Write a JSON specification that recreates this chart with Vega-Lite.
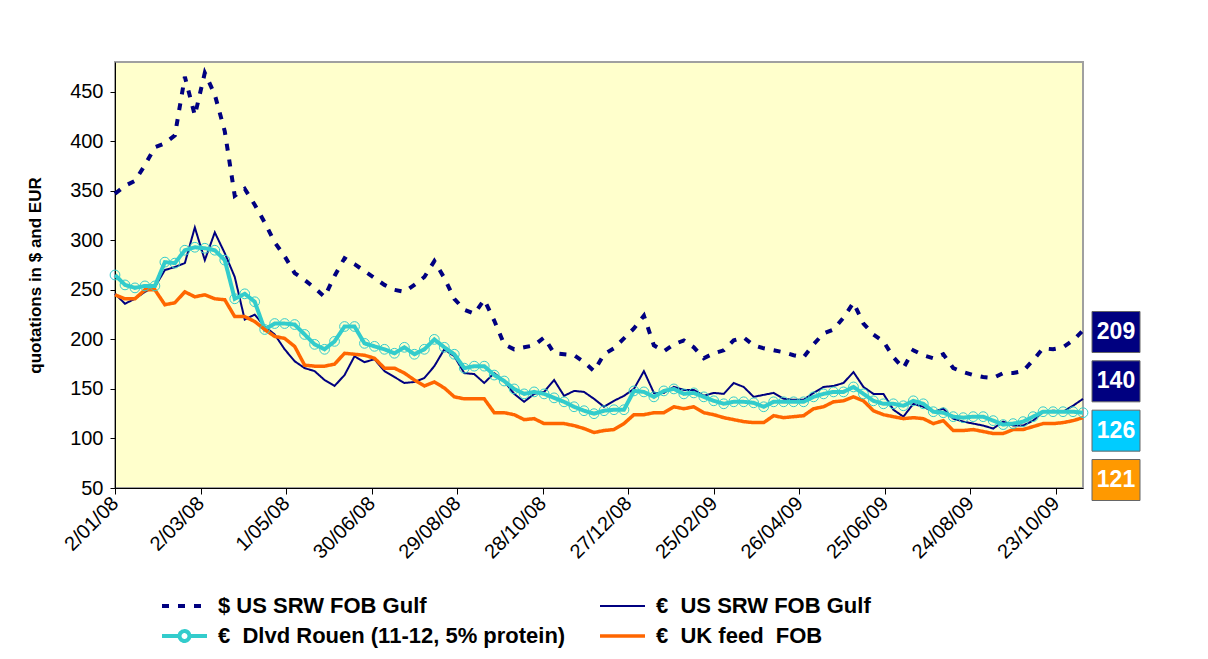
{
  "$schema": "https://vega.github.io/schema/vega-lite/v6.json",
  "width": 968,
  "height": 426,
  "autosize": {"type": "none"},
  "padding": {"left": 115, "top": 62, "right": 125, "bottom": 171},
  "background": "white",
  "config": {
    "font": "Liberation Sans",
    "view": {"fill": "#FFFFCC", "stroke": "#A0A0A0", "strokeWidth": 2},
    "axis": {"labelFont": "Liberation Sans", "labelColor": "black", "domainColor": "black", "tickColor": "black", "grid": false}
  },
  "data": {
    "values": [
      {"date": "2008-01-02", "usd": 347, "eur": 246, "rouen": 265, "uk": 245},
      {"date": "2008-01-09", "usd": 355, "eur": 236, "rouen": 255, "uk": 241},
      {"date": "2008-01-16", "usd": 360, "eur": 241, "rouen": 252, "uk": 241},
      {"date": "2008-01-23", "usd": 376, "eur": 248, "rouen": 254, "uk": 250},
      {"date": "2008-01-30", "usd": 394, "eur": 253, "rouen": 254, "uk": 250},
      {"date": "2008-02-06", "usd": 398, "eur": 270, "rouen": 278, "uk": 235},
      {"date": "2008-02-13", "usd": 406, "eur": 273, "rouen": 277, "uk": 237},
      {"date": "2008-02-20", "usd": 465, "eur": 277, "rouen": 290, "uk": 248},
      {"date": "2008-02-27", "usd": 426, "eur": 313, "rouen": 293, "uk": 243},
      {"date": "2008-03-05", "usd": 469, "eur": 280, "rouen": 292, "uk": 245},
      {"date": "2008-03-12", "usd": 447, "eur": 308, "rouen": 290, "uk": 241},
      {"date": "2008-03-19", "usd": 410, "eur": 287, "rouen": 280, "uk": 240},
      {"date": "2008-03-26", "usd": 345, "eur": 263, "rouen": 241, "uk": 223},
      {"date": "2008-04-02", "usd": 352, "eur": 220, "rouen": 246, "uk": 223},
      {"date": "2008-04-09", "usd": 336, "eur": 225, "rouen": 238, "uk": 218},
      {"date": "2008-04-16", "usd": 318, "eur": 213, "rouen": 210, "uk": 210},
      {"date": "2008-04-23", "usd": 298, "eur": 205, "rouen": 216, "uk": 203},
      {"date": "2008-04-30", "usd": 284, "eur": 190, "rouen": 216, "uk": 201},
      {"date": "2008-05-07", "usd": 267, "eur": 178, "rouen": 215, "uk": 193},
      {"date": "2008-05-14", "usd": 260, "eur": 171, "rouen": 205, "uk": 174},
      {"date": "2008-05-21", "usd": 252, "eur": 168, "rouen": 195, "uk": 173},
      {"date": "2008-05-28", "usd": 243, "eur": 159, "rouen": 190, "uk": 173},
      {"date": "2008-06-04", "usd": 264, "eur": 153, "rouen": 198, "uk": 175},
      {"date": "2008-06-11", "usd": 282, "eur": 164, "rouen": 213, "uk": 186},
      {"date": "2008-06-18", "usd": 276, "eur": 183, "rouen": 213, "uk": 185},
      {"date": "2008-06-25", "usd": 269, "eur": 177, "rouen": 196, "uk": 184},
      {"date": "2008-07-02", "usd": 262, "eur": 180, "rouen": 193, "uk": 181},
      {"date": "2008-07-09", "usd": 255, "eur": 168, "rouen": 190, "uk": 171},
      {"date": "2008-07-16", "usd": 250, "eur": 162, "rouen": 186, "uk": 171},
      {"date": "2008-07-23", "usd": 248, "eur": 156, "rouen": 192, "uk": 166},
      {"date": "2008-07-30", "usd": 255, "eur": 157, "rouen": 185, "uk": 159},
      {"date": "2008-08-06", "usd": 263, "eur": 161, "rouen": 190, "uk": 153},
      {"date": "2008-08-13", "usd": 279, "eur": 173, "rouen": 200, "uk": 157},
      {"date": "2008-08-20", "usd": 262, "eur": 190, "rouen": 192, "uk": 151},
      {"date": "2008-08-27", "usd": 241, "eur": 183, "rouen": 185, "uk": 142},
      {"date": "2008-09-03", "usd": 230, "eur": 166, "rouen": 171, "uk": 140},
      {"date": "2008-09-10", "usd": 226, "eur": 165, "rouen": 173, "uk": 140},
      {"date": "2008-09-17", "usd": 240, "eur": 156, "rouen": 173, "uk": 140},
      {"date": "2008-09-24", "usd": 219, "eur": 166, "rouen": 164, "uk": 126},
      {"date": "2008-10-01", "usd": 195, "eur": 158, "rouen": 158, "uk": 126},
      {"date": "2008-10-08", "usd": 190, "eur": 145, "rouen": 150, "uk": 124},
      {"date": "2008-10-15", "usd": 192, "eur": 137, "rouen": 145, "uk": 119},
      {"date": "2008-10-22", "usd": 194, "eur": 145, "rouen": 147, "uk": 120},
      {"date": "2008-10-29", "usd": 202, "eur": 147, "rouen": 145, "uk": 115},
      {"date": "2008-11-05", "usd": 186, "eur": 159, "rouen": 141, "uk": 115},
      {"date": "2008-11-12", "usd": 185, "eur": 143, "rouen": 137, "uk": 115},
      {"date": "2008-11-19", "usd": 184, "eur": 148, "rouen": 132, "uk": 113},
      {"date": "2008-11-26", "usd": 177, "eur": 147, "rouen": 128, "uk": 110},
      {"date": "2008-12-03", "usd": 168, "eur": 140, "rouen": 125, "uk": 106},
      {"date": "2008-12-10", "usd": 185, "eur": 132, "rouen": 128, "uk": 108},
      {"date": "2008-12-17", "usd": 191, "eur": 138, "rouen": 129, "uk": 109},
      {"date": "2008-12-24", "usd": 201, "eur": 143, "rouen": 129, "uk": 115},
      {"date": "2008-12-31", "usd": 211, "eur": 150, "rouen": 148, "uk": 124},
      {"date": "2009-01-07", "usd": 224, "eur": 168, "rouen": 147, "uk": 124},
      {"date": "2009-01-14", "usd": 194, "eur": 146, "rouen": 142, "uk": 126},
      {"date": "2009-01-21", "usd": 188, "eur": 146, "rouen": 148, "uk": 126},
      {"date": "2009-01-28", "usd": 195, "eur": 152, "rouen": 150, "uk": 132},
      {"date": "2009-02-04", "usd": 199, "eur": 149, "rouen": 145, "uk": 130},
      {"date": "2009-02-11", "usd": 192, "eur": 149, "rouen": 146, "uk": 132},
      {"date": "2009-02-18", "usd": 181, "eur": 143, "rouen": 142, "uk": 126},
      {"date": "2009-02-25", "usd": 186, "eur": 146, "rouen": 138, "uk": 124},
      {"date": "2009-03-04", "usd": 189, "eur": 145, "rouen": 135, "uk": 121},
      {"date": "2009-03-11", "usd": 199, "eur": 156, "rouen": 137, "uk": 119},
      {"date": "2009-03-18", "usd": 202, "eur": 152, "rouen": 137, "uk": 117},
      {"date": "2009-03-25", "usd": 194, "eur": 142, "rouen": 136, "uk": 116},
      {"date": "2009-04-01", "usd": 191, "eur": 144, "rouen": 132, "uk": 116},
      {"date": "2009-04-08", "usd": 189, "eur": 146, "rouen": 137, "uk": 123},
      {"date": "2009-04-15", "usd": 187, "eur": 140, "rouen": 137, "uk": 121},
      {"date": "2009-04-22", "usd": 184, "eur": 139, "rouen": 137, "uk": 122},
      {"date": "2009-04-29", "usd": 182, "eur": 139, "rouen": 137, "uk": 123},
      {"date": "2009-05-06", "usd": 195, "eur": 146, "rouen": 142, "uk": 130},
      {"date": "2009-05-13", "usd": 206, "eur": 152, "rouen": 145, "uk": 132},
      {"date": "2009-05-20", "usd": 210, "eur": 153, "rouen": 147, "uk": 137},
      {"date": "2009-05-27", "usd": 222, "eur": 156, "rouen": 147, "uk": 138},
      {"date": "2009-06-03", "usd": 237, "eur": 167, "rouen": 152, "uk": 142},
      {"date": "2009-06-10", "usd": 216, "eur": 152, "rouen": 145, "uk": 138},
      {"date": "2009-06-17", "usd": 205, "eur": 145, "rouen": 138, "uk": 128},
      {"date": "2009-06-24", "usd": 198, "eur": 145, "rouen": 135, "uk": 124},
      {"date": "2009-07-01", "usd": 182, "eur": 129, "rouen": 135, "uk": 122},
      {"date": "2009-07-08", "usd": 171, "eur": 122, "rouen": 133, "uk": 120},
      {"date": "2009-07-15", "usd": 189, "eur": 135, "rouen": 138, "uk": 121},
      {"date": "2009-07-22", "usd": 184, "eur": 132, "rouen": 135, "uk": 120},
      {"date": "2009-07-29", "usd": 181, "eur": 127, "rouen": 127, "uk": 115},
      {"date": "2009-08-05", "usd": 185, "eur": 130, "rouen": 126, "uk": 118},
      {"date": "2009-08-12", "usd": 171, "eur": 120, "rouen": 122, "uk": 108},
      {"date": "2009-08-19", "usd": 167, "eur": 117, "rouen": 121, "uk": 108},
      {"date": "2009-08-26", "usd": 164, "eur": 115, "rouen": 122, "uk": 109},
      {"date": "2009-09-02", "usd": 162, "eur": 113, "rouen": 122, "uk": 107},
      {"date": "2009-09-09", "usd": 161, "eur": 110, "rouen": 118, "uk": 105},
      {"date": "2009-09-16", "usd": 166, "eur": 117, "rouen": 114, "uk": 105},
      {"date": "2009-09-23", "usd": 166, "eur": 113, "rouen": 115, "uk": 109},
      {"date": "2009-09-30", "usd": 168, "eur": 113, "rouen": 117, "uk": 109},
      {"date": "2009-10-07", "usd": 179, "eur": 118, "rouen": 122, "uk": 112},
      {"date": "2009-10-14", "usd": 191, "eur": 127, "rouen": 127, "uk": 115},
      {"date": "2009-10-21", "usd": 190, "eur": 128, "rouen": 127, "uk": 115},
      {"date": "2009-10-28", "usd": 192, "eur": 127, "rouen": 127, "uk": 116},
      {"date": "2009-11-04", "usd": 199, "eur": 133, "rouen": 127, "uk": 118},
      {"date": "2009-11-11", "usd": 209, "eur": 140, "rouen": 126, "uk": 121}
    ]
  },
  "transform": [{"fold": ["usd", "eur", "rouen", "uk"], "as": ["series", "price"]}],
  "encoding": {
    "x": {
      "field": "date",
      "type": "temporal",
      "scale": {
        "type": "utc",
        "domain": [
          {"year": 2008, "month": 1, "date": 2, "utc": true},
          {"year": 2009, "month": 11, "date": 11, "utc": true}
        ]
      },
      "axis": {
        "title": null,
        "format": "%-d/%m/%y",
        "labelAngle": -45,
        "labelAlign": "right",
        "labelBaseline": "middle",
        "labelFontSize": 20,
        "labelPadding": 6,
        "tickSize": 6,
        "values": [
          {"year": 2008, "month": 1, "date": 2, "utc": true},
          {"year": 2008, "month": 3, "date": 2, "utc": true},
          {"year": 2008, "month": 5, "date": 1, "utc": true},
          {"year": 2008, "month": 6, "date": 30, "utc": true},
          {"year": 2008, "month": 8, "date": 29, "utc": true},
          {"year": 2008, "month": 10, "date": 28, "utc": true},
          {"year": 2008, "month": 12, "date": 27, "utc": true},
          {"year": 2009, "month": 2, "date": 25, "utc": true},
          {"year": 2009, "month": 4, "date": 26, "utc": true},
          {"year": 2009, "month": 6, "date": 25, "utc": true},
          {"year": 2009, "month": 8, "date": 24, "utc": true},
          {"year": 2009, "month": 10, "date": 23, "utc": true}
        ]
      }
    }
  },
  "layer": [
    {
      "mark": {"type": "line", "strokeCap": "butt", "strokeJoin": "miter"},
      "encoding": {
        "y": {
          "field": "price",
          "type": "quantitative",
          "scale": {"domain": [50, 480], "nice": false, "zero": false},
          "axis": {
            "title": "quotations in $ and EUR",
            "titleFontSize": 17,
            "titleFontWeight": "bold",
            "titleColor": "black",
            "titlePadding": 25,
            "labelFontSize": 20,
            "labelPadding": 7,
            "tickSize": 5,
            "values": [50, 100, 150, 200, 250, 300, 350, 400, 450]
          }
        },
        "color": {
          "field": "series",
          "type": "nominal",
          "scale": {"domain": ["usd", "rouen", "eur", "uk"], "range": ["#000080", "#33CCCC", "#000080", "#FF6600"]},
          "legend": {
            "title": null,
            "orient": "none",
            "legendX": 45,
            "legendY": 533,
            "columns": 2,
            "symbolType": "M-1,0H4",
            "symbolSize": 324,
            "symbolFillColor": "transparent",
            "labelFontSize": 22,
            "labelFontWeight": "bold",
            "labelColor": "black",
            "labelLimit": 700,
            "labelOffset": 36,
            "columnPadding": 27,
            "rowPadding": 6,
            "labelExpr": "{'usd': '$ US SRW FOB Gulf', 'eur': '€\u00a0 US SRW FOB Gulf', 'rouen': '€\u00a0 Dlvd Rouen (11-12, 5% protein)', 'uk': '€\u00a0 UK feed\u00a0 FOB'}[datum.label]",
            "encode": {
              "symbols": {
                "update": {
                  "shape": {"signal": "datum.value === 'rouen' ? 'M-1,0H0.95M2.05,0H4M2.05,0A0.55,0.55 0 1,1 0.95,0A0.55,0.55 0 1,1 2.05,0' : 'M-1,0H4'"}
                }
              }
            }
          }
        },
        "strokeDash": {
          "field": "series",
          "type": "nominal",
          "scale": {"domain": ["usd", "rouen", "eur", "uk"], "range": [[7, 9], [1, 0], [1, 0], [1, 0]]}
        },
        "strokeWidth": {
          "field": "series",
          "type": "nominal",
          "scale": {"type": "ordinal", "domain": ["usd", "rouen", "eur", "uk"], "range": [4, 4, 2, 3.5]}
        }
      }
    },
    {
      "transform": [{"filter": "datum.series === 'rouen'"}],
      "mark": {"type": "point", "shape": "circle", "size": 95, "filled": false, "stroke": "#33CCCC", "strokeWidth": 1, "opacity": 1},
      "encoding": {
        "y": {"field": "price", "type": "quantitative", "scale": {"domain": [50, 480], "nice": false, "zero": false}, "axis": null}
      }
    },
    {
      "transform": [{"filter": "utcyear(datum.date) === 2009 && utcmonth(datum.date) === 10 && utcdate(datum.date) === 11"}],
      "mark": {"type": "rect", "width": 48, "height": 41, "xOffset": 33, "stroke": "#666666", "strokeWidth": 1},
      "encoding": {
        "y": {"field": "series", "type": "nominal", "scale": {"type": "point", "padding": 0, "domain": ["usd", "eur", "rouen", "uk"], "range": [270, 418]}, "axis": null},
        "fill": {"field": "series", "type": "nominal", "scale": {"domain": ["usd", "eur", "rouen", "uk"], "range": ["#000080", "#000080", "#00CCFF", "#FF9900"]}, "legend": null}
      }
    },
    {
      "transform": [{"filter": "utcyear(datum.date) === 2009 && utcmonth(datum.date) === 10 && utcdate(datum.date) === 11"}],
      "mark": {"type": "text", "dx": 33, "fontSize": 23, "fontWeight": "bold", "fill": "white", "align": "center", "baseline": "middle"},
      "encoding": {
        "y": {"field": "series", "type": "nominal", "scale": {"type": "point", "padding": 0, "domain": ["usd", "eur", "rouen", "uk"], "range": [270, 418]}, "axis": null},
        "text": {"field": "price", "type": "quantitative"}
      }
    }
  ],
  "resolve": {"scale": {"y": "independent"}}
}
